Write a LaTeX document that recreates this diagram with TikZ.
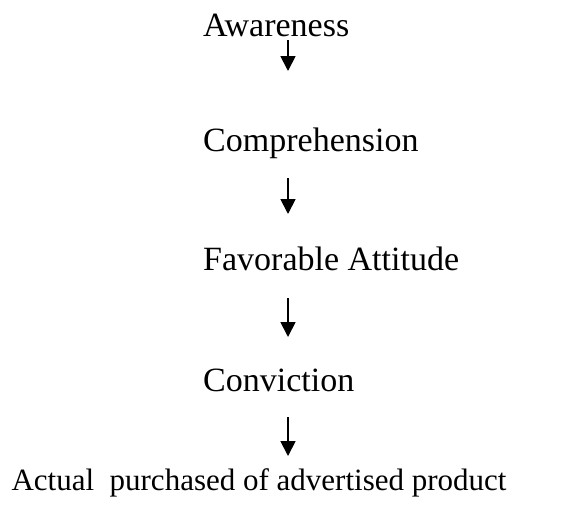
\documentclass[tikz,border=0pt]{standalone}
\usepackage{fontspec}
\setmainfont{Liberation Serif}
\usetikzlibrary{arrows.meta}
\begin{document}
\begin{tikzpicture}[x=1pt,y=1pt,
  lbl/.style={inner sep=0pt,font=\fontsize{34}{40}\selectfont},
  lblsmall/.style={inner sep=0pt,font=\fontsize{31}{37}\selectfont},
  flow/.style={line width=1.8pt,-{Triangle[length=15pt,width=15pt]}}]
\useasboundingbox (0,0) rectangle (569,-515);
\node[lbl,anchor=base west] (a) at (203,-36) {Awareness};
\node[lbl,anchor=base west] (b) at (203,-151) {Comprehension};
\node[lbl,anchor=base west] (c) at (203,-270) {Favorable Attitude};
\node[lbl,anchor=base west] (d) at (203,-391) {Conviction};
\node[lblsmall,anchor=base] (e) at (259,-490) {Actual\ \ purchased of advertised product};
\coordinate (a1) at (288,-40);  \coordinate (a2) at (288,-71);
\coordinate (b1) at (288,-178); \coordinate (b2) at (288,-214);
\coordinate (c1) at (288,-298); \coordinate (c2) at (288,-337);
\coordinate (d1) at (288,-417); \coordinate (d2) at (288,-456);
\draw[flow] (a1) -- (a2);
\draw[flow] (b1) -- (b2);
\draw[flow] (c1) -- (c2);
\draw[flow] (d1) -- (d2);
\end{tikzpicture}
\end{document}
